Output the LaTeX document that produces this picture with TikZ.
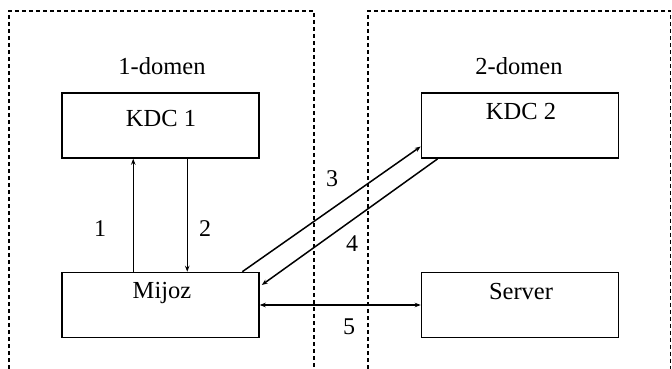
\documentclass[tikz,border=0pt]{standalone}
\usepackage{fontspec}
\setmainfont{Liberation Serif}
\usetikzlibrary{arrows.meta}
\begin{document}
\begin{tikzpicture}[x=1pt,y=-1pt,
  box/.style={draw,line width=1.5pt,minimum width=197pt,minimum height=65pt,inner sep=0pt},
  txt/.style={font=\fontsize{24.5}{28}\selectfont,inner sep=0pt},
  num/.style={font=\fontsize{24}{27}\selectfont,inner sep=0pt},
  domframe/.style={dash pattern=on 4pt off 3pt,line width=1.2pt},
  conn/.style={line width=1.5pt,-{Stealth[length=6pt,width=4.5pt]}}]
\useasboundingbox (0,0) rectangle (672,369);
% domain frames (open at the bottom)
\draw[domframe] (9,369) -- (9,11) -- (314,11) -- (314,369);
\draw[domframe] (368,369) -- (368,11) -- (670.5,11) -- (670.5,369);
\node[txt] (d1) at (162,66) {1-domen};
\node[txt] (d2) at (519,66) {2-domen};
% boxes
\node[box] (kdc1) at (160.5,125.5) {};
\node[box] (mijoz) at (160.5,305) {};
\node[box] (kdc2) at (520,125.5) {};
\node[box] (server) at (520,305) {};
\node[txt] (t1) at (161,119) {KDC 1};
\node[txt] (t2) at (521,112) {KDC 2};
\node[txt] (t3) at (162,293) {Mijoz};
\node[txt] (t4) at (521,292) {Server};
% connectors
\draw[conn] ([xshift=72pt]mijoz.north west) -- ([xshift=72pt]kdc1.south west);
\draw[conn] ([xshift=126pt]kdc1.south west) -- ([xshift=126pt]mijoz.north west);
\draw[conn] ([xshift=181pt]mijoz.north west) -- ([yshift=-21pt]kdc2.west);
\draw[conn] ([xshift=17pt]kdc2.south west) -- ([yshift=20pt,xshift=2pt]mijoz.east);
\draw[line width=1.5pt,{Stealth[length=6pt,width=4.5pt]}-{Stealth[length=6pt,width=4.5pt]}] (mijoz.east) -- (server.west);
% labels
\node[num] (n1) at (100,229) {1};
\node[num] (n2) at (205,229) {2};
\node[num] (n3) at (332,179) {3};
\node[num] (n4) at (352,244) {4};
\node[num] (n5) at (349,327) {5};
\end{tikzpicture}
\end{document}
